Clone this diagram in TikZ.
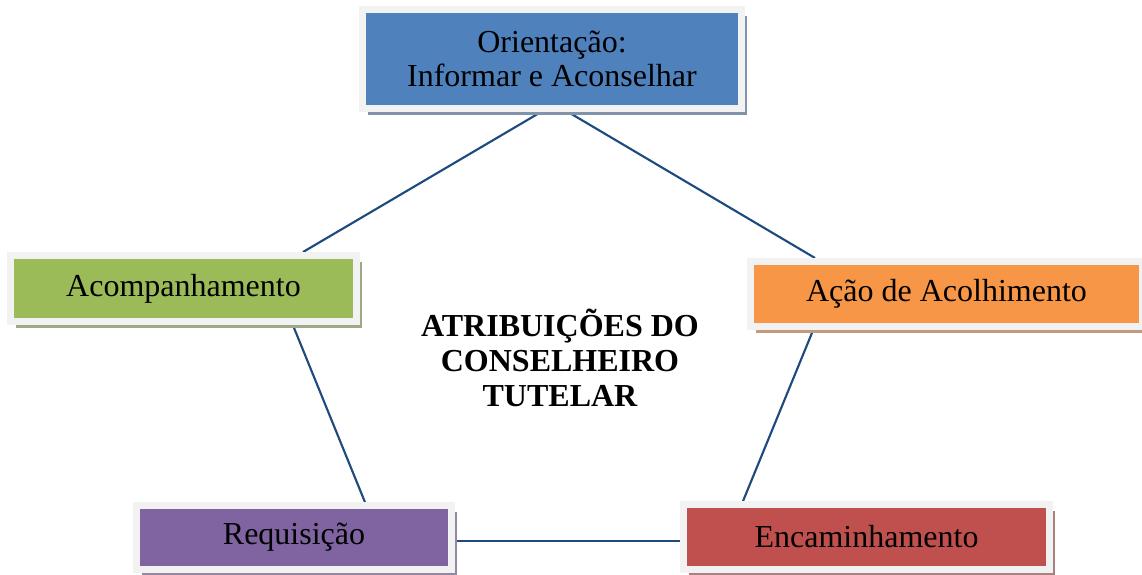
\documentclass[tikz,border=0pt]{standalone}
\usepackage{fontspec}
\setmainfont{Liberation Serif}
\usetikzlibrary{shadows,backgrounds}
\definecolor{boxblue}{HTML}{4F81BD}
\definecolor{boxgreen}{HTML}{9BBB59}
\definecolor{boxorange}{HTML}{F79646}
\definecolor{boxred}{HTML}{C0504D}
\definecolor{boxpurple}{HTML}{8064A2}
\definecolor{linkblue}{HTML}{1F4A7E}
\definecolor{framegray}{HTML}{F2F2F2}

\begin{document}
\begin{tikzpicture}[x=0.375pt,y=-0.375pt,
  attr/.style={draw=framegray, line width=2.6pt, fill=#1, inner sep=0pt, align=center,
    font=\fontsize{12}{12.5}\selectfont,
    drop shadow={shadow xshift=1.9pt, shadow yshift=-2.3pt, opacity=1, fill=#1!45!gray!85}},
  link/.style={draw=linkblue, line width=0.8pt}]
  \useasboundingbox (0,0) rectangle (1142,574);
  \node[attr=boxblue, minimum width=142.1pt, minimum height=37.1pt] (orient) at (552,59) {Orientação:\\Informar e Aconselhar};
  \node[attr=boxgreen, minimum width=129.75pt, minimum height=24.75pt] (acomp) at (183.5,288.5) {Acompanhamento};
  \node[attr=boxorange, minimum width=147pt, minimum height=24.4pt] (acao) at (946.5,294) {Ação de Acolhimento};
  \node[attr=boxpurple, minimum width=118.1pt, minimum height=24pt] (requis) at (294,537.5) {Requisição};
  \node[attr=boxred, minimum width=137.25pt, minimum height=24.4pt] (encam) at (866.5,537) {Encaminhamento};
  \node[align=center, font=\fontsize{12}{13}\selectfont\bfseries] (title) at (560,358) {ATRIBUIÇÕES DO\\CONSELHEIRO\\TUTELAR};
  \begin{scope}[on background layer]
    \draw[link] ([xshift=-4.1pt]orient.south) -- ([xshift=44.8pt]acomp.north);
    \draw[link] ([xshift=6pt]orient.south) -- ([xshift=-49.3pt]acao.north);
    \draw[link] ([xshift=41pt]acomp.south) -- ([xshift=26.6pt]requis.north);
    \draw[link] ([xshift=-50pt]acao.south) -- ([xshift=-46.3pt]encam.north);
    \draw[link] ([yshift=-1.3pt]requis.east) -- ([yshift=-1.3pt]requis.east -| encam.west);
  \end{scope}
\end{tikzpicture}
\end{document}
